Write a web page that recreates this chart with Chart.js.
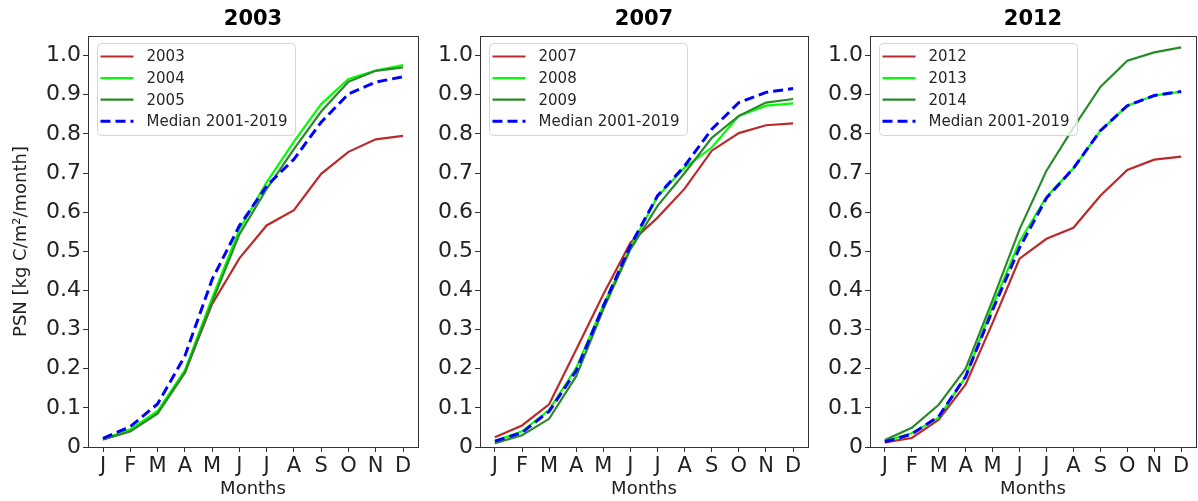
<!DOCTYPE html>
<html>
<head>
<meta charset="utf-8">
<script src="https://cdn.jsdelivr.net/npm/chart.js@4.4.1/dist/chart.umd.min.js"></script>
<style>
  html, body { margin:0; padding:0; background:#fff; }
  #wrap { position:relative; width:1198px; height:501px; }
  canvas { position:absolute; top:0; }
</style>
</head>
<body>
<div id="wrap">
  <canvas id="p1" width="420" height="501" style="left:0px"></canvas>
  <canvas id="p2" width="390" height="501" style="left:420px"></canvas>
  <canvas id="p3" width="388" height="501" style="left:810px"></canvas>
</div>
<script>
// PSN cumulative curves, three panels

const months = ['J','F','M','A','M','J','J','A','S','O','N','D'];
const yTicks = [0, 0.1, 0.2, 0.3, 0.4, 0.5, 0.6, 0.7, 0.8, 0.9, 1.0];
const yTickLabels = ['0','0.1','0.2','0.3','0.4','0.5','0.6','0.7','0.8','0.9','1.0'];

const panelTitles = ['2003', '2007', '2012'];
const seriesNames1 = ['2003', '2004', '2005', 'Median 2001-2019'];
const seriesNames2 = ['2007', '2008', '2009', 'Median 2001-2019'];
const seriesNames3 = ['2012', '2013', '2014', 'Median 2001-2019'];

// panel 2003
const psn2003 = [0.019, 0.040, 0.087, 0.190, 0.365, 0.482, 0.566, 0.605, 0.698, 0.754, 0.786, 0.795];
const psn2004 = [0.020, 0.045, 0.092, 0.196, 0.380, 0.555, 0.676, 0.780, 0.876, 0.940, 0.962, 0.976];
const psn2005 = [0.019, 0.040, 0.085, 0.190, 0.370, 0.543, 0.659, 0.761, 0.857, 0.933, 0.961, 0.970];
const median1 = [0.022, 0.052, 0.110, 0.232, 0.428, 0.565, 0.667, 0.735, 0.830, 0.902, 0.932, 0.946];

// panel 2007
const psn2007 = [0.025, 0.055, 0.109, 0.249, 0.390, 0.522, 0.586, 0.660, 0.757, 0.802, 0.822, 0.827];
const psn2008 = [0.015, 0.040, 0.095, 0.202, 0.362, 0.510, 0.640, 0.714, 0.765, 0.846, 0.872, 0.878];
const psn2009 = [0.010, 0.030, 0.072, 0.181, 0.352, 0.505, 0.616, 0.700, 0.790, 0.846, 0.880, 0.889];
const median2 = [0.015, 0.037, 0.091, 0.195, 0.360, 0.515, 0.642, 0.718, 0.812, 0.880, 0.906, 0.916];

// panel 2012
const psn2012 = [0.012, 0.023, 0.070, 0.160, 0.317, 0.481, 0.532, 0.560, 0.642, 0.708, 0.734, 0.742];
const psn2013 = [0.015, 0.035, 0.075, 0.180, 0.360, 0.525, 0.639, 0.712, 0.808, 0.872, 0.898, 0.908];
const psn2014 = [0.018, 0.049, 0.108, 0.200, 0.375, 0.556, 0.706, 0.816, 0.920, 0.987, 1.008, 1.021];
const median3 = [0.013, 0.033, 0.078, 0.180, 0.350, 0.509, 0.636, 0.712, 0.808, 0.872, 0.898, 0.908];

const lineColors = ['#bb2a2a', '#00ff00', '#2a8a2a', '#0000ff'];
const FONT = "'DejaVu Sans', sans-serif";

const framePlugin = {
  id: 'frame',
  afterDatasetsDraw(chart) {
    const a = chart.chartArea, c = chart.ctx;
    c.save();
    c.strokeStyle = '#333';
    c.lineWidth = 1;
    c.strokeRect(Math.round(a.left) + 0.5, Math.round(a.top) + 0.5, Math.round(a.right - a.left), Math.round(a.bottom - a.top));
    c.restore();
  }
};

const titleLegendPlugin = {
  id: 'titleLegend',
  afterDraw(chart) {
    const a = chart.chartArea, c = chart.ctx;
    const o = chart.options.plugins.titleLegend;
    c.save();
    // title
    c.fillStyle = '#000';
    c.font = "bold 21px " + FONT;
    c.textAlign = 'center';
    c.textBaseline = 'middle';
    c.fillText(o.title, (a.left + a.right) / 2, 20);

    // legend box
    const bx = a.left + 9.5, by = a.top + 7.5, bw = 198, bh = 92;
    c.beginPath();
    c.roundRect(bx, by, bw, bh, 4);
    c.fillStyle = 'rgba(255,255,255,0.8)';
    c.fill();
    c.strokeStyle = '#d6d6d6';
    c.lineWidth = 1;
    c.stroke();

    c.font = "15px " + FONT;
    c.textAlign = 'left';
    chart.data.datasets.forEach((ds, i) => {
      const y = by + 13 + i * 21.6;
      c.beginPath();
      c.strokeStyle = ds.borderColor;
      c.lineWidth = ds.borderWidth;
      c.setLineDash(ds.borderDash || []);
      c.moveTo(bx + 3, y);
      c.lineTo(bx + 36, y);
      c.stroke();
      c.setLineDash([]);
      c.fillStyle = '#262626';
      c.fillText(ds.label, bx + 49, y + 1);
    });
    c.restore();
  }
};

function makePanel(id, title, names, seriesList, yWidth, showYTitle) {
  const datasets = seriesList.map((vals, i) => ({
    label: names[i],
    data: vals.map((v, k) => ({ x: k, y: v })),
    borderColor: lineColors[i],
    backgroundColor: lineColors[i],
    borderWidth: i === 3 ? 3 : 2.2,
    borderDash: i === 3 ? [10, 5] : [],
    pointRadius: 0,
    tension: 0,
    fill: false,
    order: 4 - i
  }));

  return new Chart(document.getElementById(id), {
    type: 'line',
    data: { datasets },
    options: {
      responsive: false,
      animation: false,
      layout: { padding: { top: 36, right: 2, left: 0, bottom: 0 } },
      plugins: {
        legend: { display: false },
        tooltip: { enabled: false },
        title: { display: false },
        titleLegend: { title }
      },
      scales: {
        x: {
          type: 'linear',
          min: -0.55,
          max: 11.55,
          afterBuildTicks: s => { s.ticks = months.map((m, i) => ({ value: i })); },
          afterFit: s => { s.height = 54; },
          grid: { drawOnChartArea: false, drawTicks: true, tickLength: 5, tickColor: '#333' },
          border: { display: false },
          ticks: {
            autoSkip: false, maxRotation: 0, padding: 2,
            color: '#222', font: { family: FONT, size: 21 },
            callback: (v, i) => months[i]
          },
          title: { display: true, text: 'Months', color: '#222', font: { family: FONT, size: 18 }, padding: { top: 0, bottom: 1 } }
        },
        y: {
          min: 0,
          max: 1.05,
          afterBuildTicks: s => { s.ticks = yTicks.map(v => ({ value: v })); },
          afterFit: s => { s.width = yWidth; },
          grid: { drawOnChartArea: false, drawTicks: true, tickLength: 5, tickColor: '#333' },
          border: { display: false },
          ticks: {
            padding: 2,
            color: '#222', font: { family: FONT, size: 22 },
            callback: (v, i) => yTickLabels[i]
          },
          title: { display: showYTitle, text: 'PSN [kg C/m²/month]', color: '#222', font: { family: FONT, size: 18 }, padding: { top: 11, bottom: 0 } }
        }
      }
    },
    plugins: [framePlugin, titleLegendPlugin]
  });
}

makePanel('p1', panelTitles[0], seriesNames1, [psn2003, psn2004, psn2005, median1], 88, true);
makePanel('p2', panelTitles[1], seriesNames2, [psn2007, psn2008, psn2009, median2], 60, false);
makePanel('p3', panelTitles[2], seriesNames3, [psn2012, psn2013, psn2014, median3], 60, false);
</script>
</body>
</html>
